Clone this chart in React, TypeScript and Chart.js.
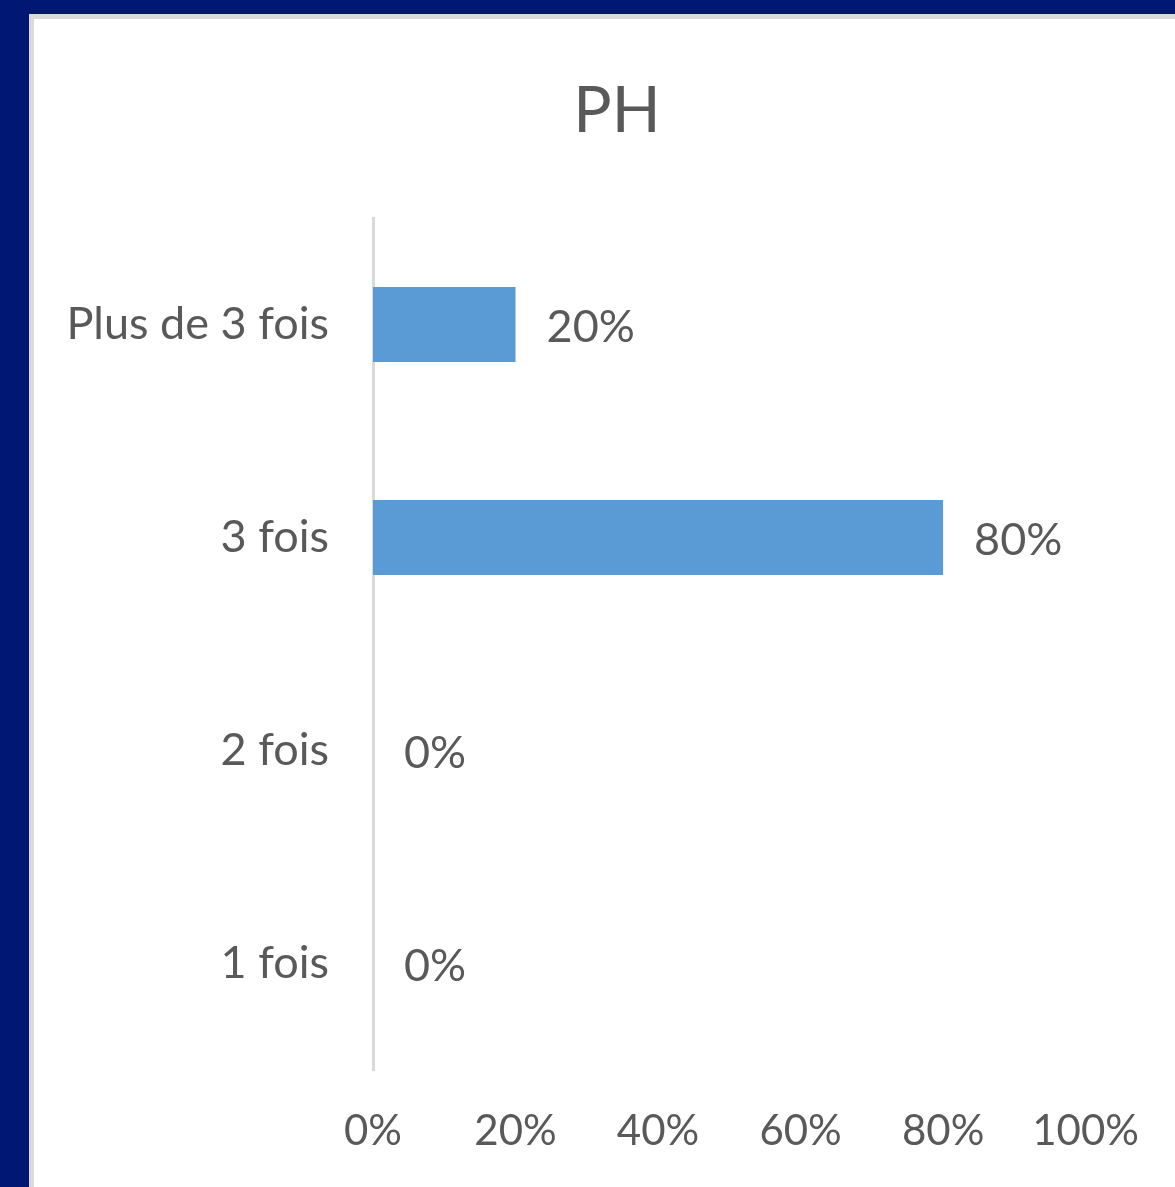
import React, { useEffect, useRef } from "react";
import { Chart, registerables } from "chart.js";

Chart.register(...registerables);

const title = "PH";
const categories = ["Plus de 3 fois", "3 fois", "2 fois", "1 fois"];
const values = [20, 80, 0, 0];
const xTicks = [0, 20, 40, 60, 80, 100];

const FONT = "Lato, 'Open Sans', sans-serif";
const TEXT = "#595959";

const dataLabels = {
  id: "dataLabels",
  afterDatasetsDraw(chart: any) {
    const ctx = chart.ctx;
    const meta = chart.getDatasetMeta(0);
    ctx.save();
    ctx.font = `45px ${FONT}`;
    ctx.fillStyle = TEXT;
    ctx.textAlign = "left";
    ctx.textBaseline = "middle";
    meta.data.forEach((el: any, i: number) => {
      ctx.fillText(values[i] + "%", el.x + 31, el.y + 3);
    });
    ctx.restore();
  },
};

const titlePlugin = {
  id: "customTitle",
  afterDraw(chart: any) {
    const ctx = chart.ctx;
    ctx.save();
    ctx.font = `64px ${FONT}`;
    ctx.fillStyle = TEXT;
    ctx.textAlign = "center";
    ctx.textBaseline = "middle";
    ctx.fillText(title, 583, 92);
    ctx.restore();
  },
};

export default function App() {
  const ref = useRef<HTMLCanvasElement | null>(null);
  useEffect(() => {
    document.body.style.margin = "0";
    const chart = new Chart(ref.current as HTMLCanvasElement, {
      type: "bar",
      data: {
        labels: categories,
        datasets: [
          {
            data: values,
            backgroundColor: "#5b9bd5",
            borderWidth: 0,
            categoryPercentage: 1,
            barPercentage: 0.352,
          },
        ],
      },
      plugins: [dataLabels, titlePlugin],
      options: {
        indexAxis: "y",
        animation: false,
        responsive: false,
        maintainAspectRatio: false,
        layout: { padding: { top: 199, left: 0, right: 83, bottom: 30 } },
        plugins: {
          legend: { display: false },
          tooltip: { enabled: false },
          title: { display: false },
        },
        scales: {
          x: {
            min: 0,
            max: 100,
            afterBuildTicks(scale: any) {
              scale.ticks = xTicks.map((v) => ({ value: v }));
            },
            afterFit(scale: any) {
              scale.height = 87;
            },
            ticks: {
              color: TEXT,
              font: { family: FONT, size: 42 },
              padding: 36,
              maxRotation: 0,
              autoSkip: false,
              callback: (v: any) => v + "%",
            },
            grid: { display: false, drawTicks: false },
            border: { display: false },
          },
          y: {
            afterFit(scale: any) {
              scale.width = 339;
            },
            ticks: {
              color: TEXT,
              font: { family: FONT, size: 45 },
              padding: 44,
            },
            grid: { display: false, drawTicks: false },
            border: { display: true, color: "#d9d9d9", width: 3 },
          },
        },
      },
    } as any);
    return () => chart.destroy();
  }, []);

  return (
    <div
      style={{
        width: 1175,
        height: 1187,
        background: "#001873",
        position: "relative",
        overflow: "hidden",
      }}
    >
      <div
        style={{
          position: "absolute",
          left: 29,
          top: 14,
          width: 1160,
          height: 1190,
          background: "#ffffff",
          borderLeft: "5px solid #dadada",
          borderTop: "5px solid #dadada",
        }}
      >
        <canvas
          ref={ref}
          width={1141}
          height={1168}
          style={{ display: "block", width: 1141, height: 1168 }}
        />
      </div>
    </div>
  );
}
